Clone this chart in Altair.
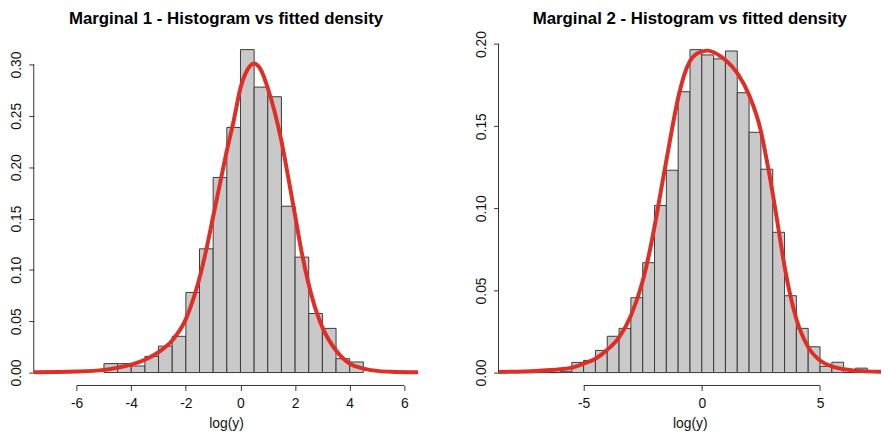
import altair as alt
import pandas as pd

# ---------------- data ----------------
# Marginal 1 histogram (bin width 0.5)
m1_breaks = [-5.0, -4.5, -4.0, -3.5, -3.0, -2.5, -2.0, -1.5, -1.0, -0.5, 0.0,
             0.5, 1.0, 1.5, 2.0, 2.5, 3.0, 3.5, 4.0, 4.5]
m1_density = [0.0087, 0.0087, 0.0064, 0.0157, 0.0257, 0.0353, 0.0780, 0.1205,
              0.1900, 0.2387, 0.3145, 0.2780, 0.2686, 0.1620, 0.1124, 0.0575,
              0.0430, 0.0135, 0.0103]
# Marginal 1 fitted density curve
m1_cx = [-7.57, -6.0, -5.0, -4.5, -4.0, -3.5, -3.0, -2.5, -2.0, -1.75, -1.5,
         -1.25, -1.0, -0.75, -0.5, -0.25, 0.0, 0.25, 0.5, 0.75, 1.0, 1.25,
         1.5, 1.75, 2.0, 2.25, 2.5, 2.75, 3.0, 3.5, 4.0, 4.5, 5.0, 5.5, 6.51]
m1_cy = [0.0003, 0.0010, 0.0026, 0.0048, 0.0077, 0.0125, 0.0200, 0.0312,
         0.0520, 0.0697, 0.0920, 0.1200, 0.1520, 0.1840, 0.2160, 0.2450,
         0.2770, 0.2946, 0.3010, 0.2946, 0.2770, 0.2540, 0.2255, 0.1900,
         0.1530, 0.1160, 0.0858, 0.0617, 0.0440, 0.0215, 0.0087, 0.0039,
         0.0016, 0.0008, 0.0002]

# Marginal 2 histogram (bin width 0.5)
m2_breaks = [-8.0, -7.5, -7.0, -6.5, -6.0, -5.5, -5.0, -4.5, -4.0, -3.5, -3.0,
             -2.5, -2.0, -1.5, -1.0, -0.5, 0.0, 0.5, 1.0, 1.5, 2.0, 2.5, 3.0,
             3.5, 4.0, 4.5, 5.0, 5.5, 6.0, 6.5, 7.0]
m2_density = [0.0012, 0.0, 0.0, 0.0, 0.0008, 0.0062, 0.0074, 0.0135, 0.0221,
              0.0269, 0.0456, 0.0669, 0.1017, 0.1232, 0.1710, 0.1966, 0.1934,
              0.1910, 0.1958, 0.1704, 0.1463, 0.1238, 0.0854, 0.0468, 0.0269,
              0.0157, 0.0038, 0.0063, 0.0, 0.0027]
# Marginal 2 fitted density curve
m2_cx = [-8.6, -7.0, -6.0, -5.5, -5.0, -4.5, -4.0, -3.5, -3.0, -2.5, -2.25,
         -2.0, -1.75, -1.5, -1.0, -0.75, -0.5, -0.25, 0.0, 0.25, 0.5, 0.75,
         1.0, 1.5, 2.0, 2.5, 2.75, 3.0, 3.25, 3.5, 3.75, 4.0, 4.5, 5.0, 5.5,
         6.0, 6.5, 7.58]
m2_cy = [0.0004, 0.0010, 0.0020, 0.0030, 0.0054, 0.0084, 0.0139, 0.0215,
         0.0346, 0.0557, 0.0708, 0.0888, 0.1090, 0.1290, 0.1672, 0.1810,
         0.1897, 0.1938, 0.1954, 0.1960, 0.1950, 0.1930, 0.1903, 0.1823,
         0.1690, 0.1470, 0.1290, 0.1090, 0.0868, 0.0647, 0.0466, 0.0326,
         0.0155, 0.0074, 0.0038, 0.0020, 0.0012, 0.0005]

titles = ["Marginal 1 - Histogram vs fitted density",
          "Marginal 2 - Histogram vs fitted density"]
x_label = "log(y)"
m1_xticks = [-6, -4, -2, 0, 2, 4, 6]
m1_yticks = [0.0, 0.05, 0.10, 0.15, 0.20, 0.25, 0.30]
m2_xticks = [-5, 0, 5]
m2_yticks = [0.0, 0.05, 0.10, 0.15, 0.20]

FONT = "Liberation Sans"
RED = "#DF2E26"
AXC = "#333333"


def panel(breaks, dens, cx, cy, xdom, ydom, xticks, yticks, title, w, h):
    bars = pd.DataFrame({"x": breaks[:-1], "x2": breaks[1:], "y": dens,
                         "y2": [0.0] * len(dens)})
    curve = pd.DataFrame({"x": cx, "y": cy})
    xrule = pd.DataFrame({"x": [xticks[0]], "x2": [xticks[-1]]})
    yrule = pd.DataFrame({"y": [yticks[0]], "y2": [yticks[-1]]})
    tdf = pd.DataFrame({"t": [title]})

    xax = alt.Axis(values=xticks, domain=False, grid=False, tickSize=5,
                   tickColor=AXC, tickWidth=1, labelPadding=6,
                   labelFontSize=14, labelFont=FONT, labelColor="#111111",
                   labelFlush=False, titleFont=FONT, titleFontSize=14,
                   titleFontWeight="normal", titleColor="#111111",
                   titlePadding=6, labelExpr="'' + datum.value")
    yax = alt.Axis(values=yticks, domain=False, grid=False, tickSize=5,
                   tickColor=AXC, tickWidth=1, labelPadding=5,
                   labelAngle=270, labelAlign="center", labelBaseline="bottom",
                   labelFontSize=14, labelFont=FONT, labelColor="#111111",
                   labelFlush=False, format=".2f", title=None)
    xs = alt.Scale(domain=xdom, nice=False, zero=False)
    ys = alt.Scale(domain=ydom, nice=False, zero=False)

    X = alt.X("x:Q", scale=xs, axis=xax, title=x_label)
    Y = alt.Y("y:Q", scale=ys, axis=yax)

    b = alt.Chart(bars).mark_rect(fill="#C9C9C9", stroke="#3a3a3a",
                                  strokeWidth=1, clip=True).encode(
        x=X, x2="x2:Q", y=Y, y2="y2:Q")
    l = alt.Chart(curve).mark_line(color=RED, strokeWidth=4, clip=True,
                                   interpolate="monotone").encode(x=X, y=Y)
    rx = alt.Chart(xrule).mark_rule(color=AXC, strokeWidth=1).encode(
        x=X, x2="x2:Q", y=alt.value(h))
    ry = alt.Chart(yrule).mark_rule(color=AXC, strokeWidth=1).encode(
        y=Y, y2="y2:Q", x=alt.value(0))
    tt = alt.Chart(tdf).mark_text(font=FONT, fontSize=17, fontWeight="bold",
                                  color="#000000", align="center",
                                  baseline="alphabetic").encode(
        text="t:N", x=alt.value(w / 2), y=alt.value(-13))
    return alt.layer(b, l, rx, ry, tt).properties(width=w, height=h)


left = panel(m1_breaks, m1_density, m1_cx, m1_cy, [-7.57, 6.51],
             [-0.0126, 0.3271], m1_xticks, m1_yticks, titles[0], 388, 352)
right = panel(m2_breaks, m2_density, m2_cx, m2_cy, [-8.60, 7.58],
              [-0.00786, 0.2045], m2_xticks, m2_yticks, titles[1], 386, 352)

chart = alt.hconcat(left, right, spacing=56).properties(
    padding={"left": 1, "top": 0, "right": 0, "bottom": 0},
    background="white",
).configure_view(stroke=None)

chart.save("out.html", embed_options={"renderer": "svg", "actions": False})
